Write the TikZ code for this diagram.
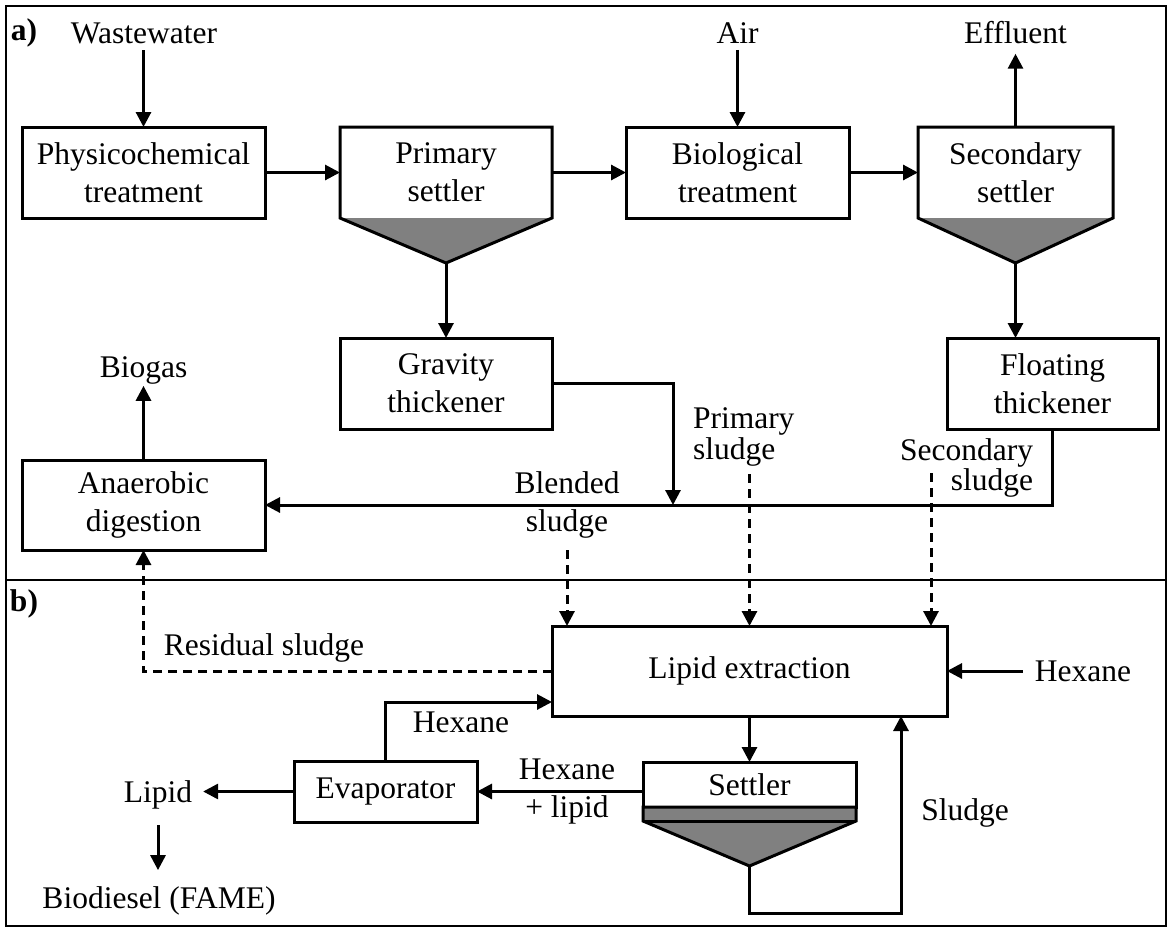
\documentclass[tikz,border=0pt]{standalone}
\usepackage{fontspec}
\setmainfont{Liberation Serif}
\usetikzlibrary{arrows.meta,calc}
\definecolor{sgray}{RGB}{128,128,128}
\begin{document}
\begin{tikzpicture}[x=0.5pt,y=-0.5pt,
  every node/.style={font=\fontsize{15.75}{19}\selectfont, outer sep=0pt},
  box/.style={draw, line width=1.5pt, align=center, inner sep=0pt},
  plain/.style={align=center, inner sep=0pt},
  lbl/.style={inner sep=0pt, align=center},
  ln/.style={line width=1.5pt, line join=miter},
  arr/.style={line width=1.5pt, -{Triangle[length=7.5pt,width=7.5pt]}},
  darr/.style={arr, dash pattern=on 4.5pt off 3pt},
  frame/.style={line width=1.1pt},
]
\useasboundingbox (0,0) rectangle (1169,927);
% frame
\draw[frame] (6,6) rectangle (1166,926);
\draw[frame] (6,580) -- (1166,580);
\node[lbl, font=\fontsize{15.75}{19}\selectfont\bfseries] (la) at (24,33) {a)};
\node[lbl, font=\fontsize{15.75}{19}\selectfont\bfseries] (lb) at (24,604) {b)};

% part a boxes
\node[box, minimum width=121.5pt, minimum height=45.5pt] (phys) at (143.5,172.5) {Physicochemical\\treatment};
\node[plain, minimum width=106pt, minimum height=45.5pt] (prim) at (446,172.5) {Primary\\settler};
\node[box, minimum width=111.5pt, minimum height=45.5pt] (bio) at (737.5,172.5) {Biological\\treatment};
\node[plain, minimum width=97.5pt, minimum height=45.5pt] (sec) at (1015.5,172.5) {Secondary\\settler};
\node[box, minimum width=106pt, minimum height=45.5pt] (grav) at (446,383.5) {Gravity\\thickener};
\node[box, minimum width=105.5pt, minimum height=45.5pt] (flt) at (1052.5,383.5) {Floating\\thickener};
\node[box, minimum width=121.5pt, minimum height=45pt] (anae) at (143.5,505) {Anaerobic\\digestion};

\coordinate (pa) at (446,263);
\coordinate (sa) at (1015.5,263);
\fill[sgray] (prim.south west) -- (prim.south east) -- (pa) -- cycle;
\draw[ln] (prim.south west) -- (prim.north west) -- (prim.north east) -- (prim.south east) -- (pa) -- cycle;
\fill[sgray] (sec.south west) -- (sec.south east) -- (sa) -- cycle;
\draw[ln] (sec.south west) -- (sec.north west) -- (sec.north east) -- (sec.south east) -- (sa) -- cycle;

% part a labels
\node[lbl] (ww) at (144,33) {Wastewater};
\node[lbl] (air) at (737.5,33) {Air};
\node[lbl] (eff) at (1015.5,33) {Effluent};
\node[lbl] (bg) at (143.5,370) {Biogas};
\node[lbl] (bl) at (567,505) {Blended\\sludge};
\node[lbl, align=left, anchor=west, font=\fontsize{15.75}{14}\selectfont] (psl) at (693,437) {Primary\\sludge};
\node[lbl, align=right, anchor=east, font=\fontsize{15.75}{15}\selectfont] (ssl) at (1033,468) {Secondary\\sludge};

% part a connectors
\draw[arr, shorten <=3.25pt] (ww.south -| phys.north) -- (phys.north);
\draw[arr] (phys.east) -- (prim.west);
\draw[arr] (prim.east) -- (bio.west);
\draw[arr] (bio.east) -- (sec.west);
\draw[arr, shorten <=3.25pt] (air.south) -- (bio.north);
\draw[arr, shorten >=4.75pt] (sec.north) -- (eff.south);
\draw[arr] (pa) -- (grav.north);
\draw[arr] (sa) -- (sa |- flt.north);
\coordinate (jn) at (673,505);
\draw[arr] (grav.east) -| (jn);
\draw[arr] (flt.south) |- (anae.east);
\draw[arr, shorten >=1pt] (anae.north) -- (bg.south);

% part b boxes
\node[box, minimum width=197.5pt, minimum height=45pt] (lipx) at (749.5,671) {Lipid extraction};
\node[box, minimum width=91.5pt, minimum height=30.5pt] (evap) at (385.5,791.5) {Evaporator};
\node[box, minimum width=106.5pt, minimum height=22.5pt] (sett) at (749.5,784.5) {Settler};
\coordinate (sbl) at (643,821);
\coordinate (sbr) at (856,821);
\coordinate (sap) at (749.5,866);
\filldraw[ln, fill=sgray] (sett.south west) -- (sett.south east) -- (sbr) -- (sap) -- (sbl) -- cycle;
\draw[ln] (sbl) -- (sbr);

% part b labels
\node[lbl] (res) at (264,648) {Residual sludge};
\node[lbl] (hxl) at (461,722) {Hexane};
\node[lbl] (hxr) at (1083,671) {Hexane};
\node[lbl] (hl) at (567,792) {Hexane\\+ lipid};
\node[lbl] (sl) at (965,813) {Sludge};
\node[lbl] (lip) at (158,795) {Lipid};
\node[lbl] (bd) at (159,901) {Biodiesel (FAME)};

% dashed feeds
\draw[darr, shorten <=6pt] (bl.south) -- (bl.south |- lipx.north);
\draw[darr, shorten <=4pt] (psl.south -| lipx.north) -- (lipx.north);
\coordinate (ssd) at (931,473);
\draw[darr] (ssd) -- (ssd |- lipx.north);
\draw[darr] (lipx.west) -| (anae.south);

% part b connectors
\draw[arr] (evap.north) |- ([yshift=-15.5pt]lipx.west);
\draw[arr, shorten <=6pt] (hxr.west) -- (lipx.east);
\draw[arr] (lipx.south) -- (sett.north);
\draw[arr] (evap.east -| sett.west) -- (evap.east);
\coordinate (ret) at (901,913);
\draw[arr] (sap) |- (ret) -- (ret |- lipx.south);
\draw[arr, shorten >=5.5pt] (evap.west) -- (evap.west -| lip.east);
\draw[arr, shorten <=8pt, shorten >=8.3pt] (lip.south) -- (lip.south |- bd.north);
\end{tikzpicture}
\end{document}
